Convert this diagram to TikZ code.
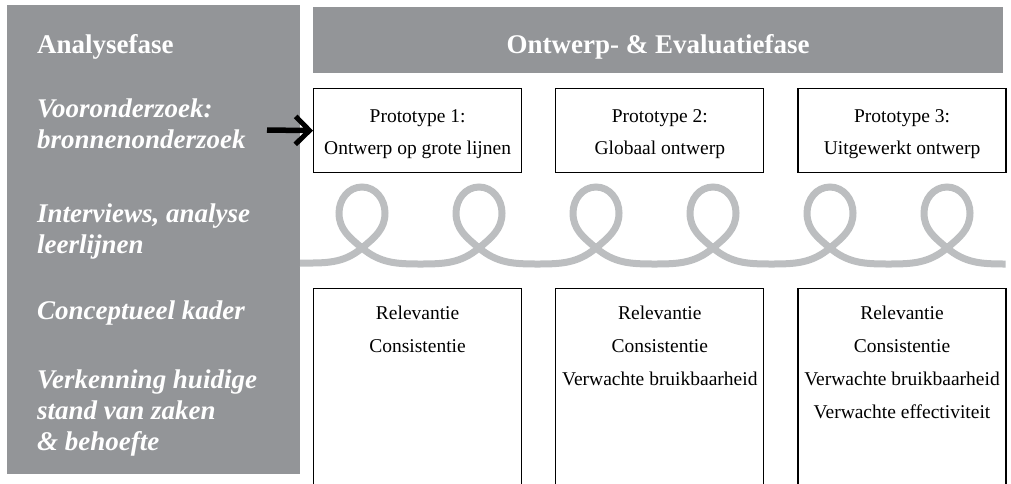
\documentclass[tikz,border=0pt]{standalone}
\usepackage{fontspec}
\setmainfont{Liberation Serif}
\usetikzlibrary{positioning,arrows.meta}
\definecolor{phasegray}{RGB}{147,149,152}
\definecolor{loopgray}{RGB}{188,190,192}

\begin{document}
\begin{tikzpicture}[x=1pt, y=1pt,
  phase/.style={fill=phasegray, draw=none, inner sep=0pt},
  phasetitle/.style={text=white, inner sep=0pt, font=\fontsize{27}{31}\selectfont\bfseries},
  phasetext/.style={text=white, inner sep=0pt, align=left, anchor=base west, font=\fontsize{27}{31}\selectfont\bfseries\itshape},
  protobox/.style={draw=black, line width=1.2pt, minimum width=208, minimum height=84, inner sep=0pt, align=center, text height=53, text depth=5, font=\fontsize{19.5}{32}\selectfont},
  evalbox/.style={draw=black, line width=1.2pt, minimum width=208, minimum height=210, inner sep=0pt},
  crit/.style={inner sep=0pt, align=center, anchor=base, font=\fontsize{19.5}{33}\selectfont},
  spiral/.style={draw=loopgray, line width=7pt},
  arr/.style={-{Straight Barb[length=14, width=28, line width=5pt]}, line width=5.5pt}]

\useasboundingbox (0,0) rectangle (1011,-483);

% Analysefase (base = last line)
\node[phase, minimum width=293, minimum height=469, anchor=north west] (analyse) at (7,-5) {};
\node[phasetitle, anchor=base west] (analysetitle) at (37,-53) {Analysefase};
\node[phasetext] (vooronderzoek) at (37,-148) {Vooronderzoek:\\bronnenonderzoek};
\node[phasetext] (interviews) at (37,-253) {Interviews, analyse\\leerlijnen};
\node[phasetext] (kader) at (37,-319) {Conceptueel kader};
\node[phasetext] (verkenning) at (37,-450) {Verkenning huidige\\stand van zaken\\\& behoefte};

% Ontwerp- & Evaluatiefase
\node[phase, minimum width=690, minimum height=66, anchor=north west] (ontwerp) at (313,-7) {};
\node[phasetitle, anchor=base] (ontwerptitle) at (658,-53) {Ontwerp- \& Evaluatiefase};

% Prototypes
\node[protobox, anchor=north west] (proto1) at (313,-88) {Prototype 1:\\Ontwerp op grote lijnen};
\node[protobox, right=33 of proto1] (proto2) {Prototype 2:\\Globaal ontwerp};
\node[protobox, right=33 of proto2] (proto3) {Prototype 3:\\Uitgewerkt ontwerp};

% Evaluaties
\node[evalbox, anchor=north west] (eval1) at (313,-288) {};
\node[evalbox, right=33 of eval1] (eval2) {};
\node[evalbox, right=33 of eval2] (eval3) {};
\node[crit] (crit1) at ([yshift=-64]eval1.north) {Relevantie\\Consistentie};
\node[crit] (crit2) at ([yshift=-97]eval2.north) {Relevantie\\Consistentie\\Verwachte bruikbaarheid};
\node[crit] (crit3) at ([yshift=-130]eval3.north) {Relevantie\\Consistentie\\Verwachte bruikbaarheid\\Verwachte effectiviteit};

% iteraties
\draw[spiral] (300,-263)
  \foreach \cx in {362,479,596,713,830,947} {
    to[out=0, in=220] (\cx,-248)
    to[out=40, in=-90] (\cx+23,-213)
    to[out=90, in=0] (\cx,-187)
    to[out=180, in=90] (\cx-23,-213)
    to[out=-90, in=140] (\cx,-248)
    to[out=-40, in=180] (\cx+58.5,-264)
  };

% start
\coordinate (arrtail) at (267,-130);
\draw[arr] (arrtail) -- (proto1.west);

\end{tikzpicture}
\end{document}
